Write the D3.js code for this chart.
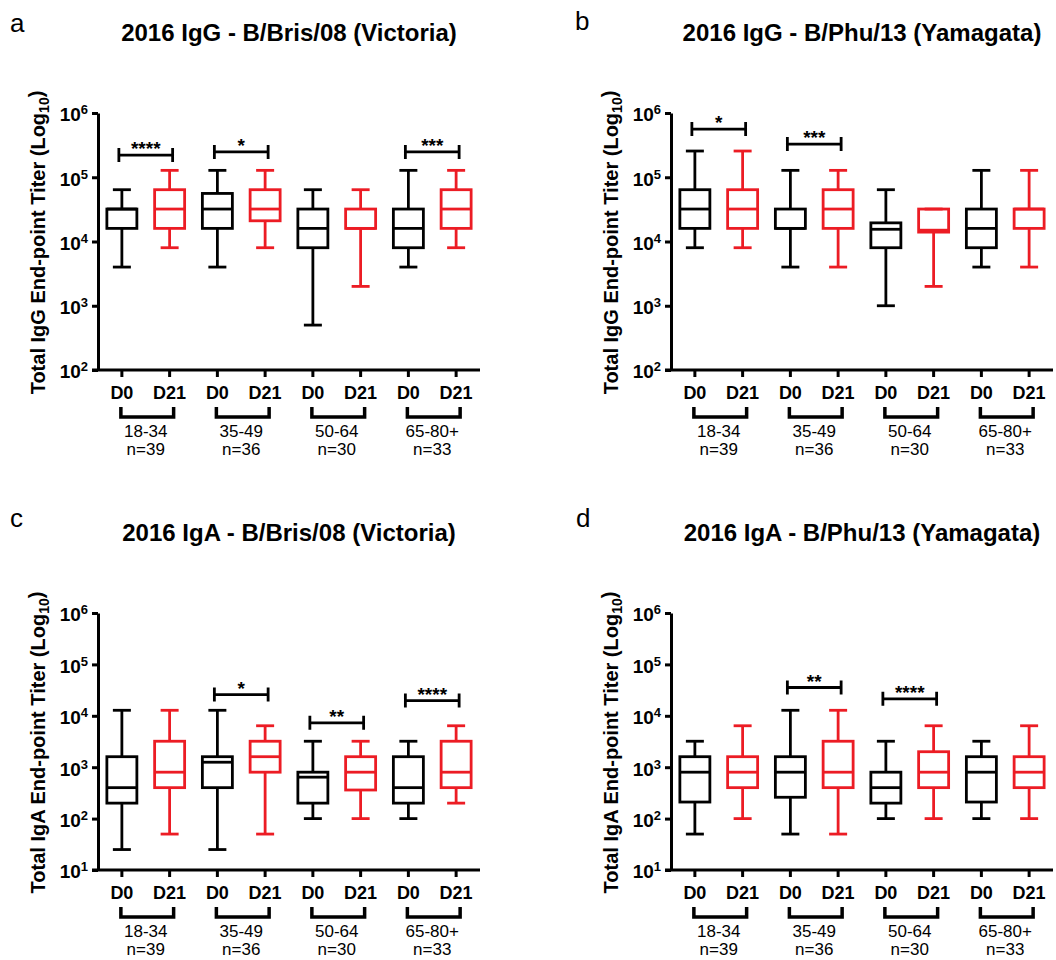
<!DOCTYPE html>
<html>
<head>
<meta charset="utf-8">
<script src="https://cdn.jsdelivr.net/npm/d3@7"></script>
<style>
  body { margin: 0; background: #fff; }
  text { font-family: "Liberation Sans", Arial, Helvetica, sans-serif; }
</style>
</head>
<body>
<svg id="chart" width="1056" height="960"></svg>
<script>
var groups = ["18-34", "35-49", "50-64", "65-80+"];
var groupN = ["n=39", "n=36", "n=30", "n=33"];
var days = ["D0", "D21"];

// each row: [min, q1, median, q3, max] for one age group
var iggVicD0 = [[4000, 16000, 32000, 32000, 64000], [4000, 16000, 32000, 56000, 128000], [500, 8000, 16000, 32000, 64000], [4000, 8000, 16000, 32000, 128000]];
var iggVicD21 = [[8000, 16000, 32000, 64000, 128000], [8000, 21000, 32000, 64000, 128000], [2000, 16000, 16000, 32000, 64000], [8000, 16000, 32000, 64000, 128000]];
var iggYamD0 = [[8000, 16000, 32000, 64000, 256000], [4000, 16000, 16000, 32000, 128000], [1000, 8000, 15500, 19500, 64000], [4000, 8000, 16000, 32000, 128000]];
var iggYamD21 = [[8000, 16000, 32000, 64000, 256000], [4000, 16000, 32000, 64000, 128000], [2000, 14000, 15000, 32000, 32000], [4000, 16000, 32000, 32000, 128000]];
var igaVicD0 = [[25, 200, 400, 1600, 12800], [25, 400, 1250, 1600, 12800], [100, 200, 640, 800, 3200], [100, 200, 400, 1600, 3200]];
var igaVicD21 = [[50, 400, 800, 3200, 12800], [50, 800, 1600, 3200, 6400], [100, 360, 800, 1600, 3200], [200, 400, 800, 3200, 6400]];
var igaYamD0 = [[50, 210, 800, 1600, 3200], [50, 260, 800, 1600, 12800], [100, 200, 400, 800, 3200], [100, 210, 800, 1600, 3200]];
var igaYamD21 = [[100, 400, 800, 1600, 6400], [50, 400, 800, 3200, 12800], [100, 400, 800, 2000, 6400], [100, 400, 800, 1600, 6400]];

// significance brackets: age group index, titer level of the bracket, stars
var sigIggVic = [[0, 221000, "****"], [1, 248000, "*"], [3, 248000, "***"]];
var sigIggYam = [[0, 562000, "*"], [1, 328000, "***"]];
var sigIgaVic = [[1, 25900, "*"], [2, 7300, "**"], [3, 19800, "****"]];
var sigIgaYam = [[1, 35500, "**"], [2, 21400, "****"]];

var panels = [
  {letter: "a", title: "2016 IgG - B/Bris/08 (Victoria)", iso: "IgG", ymin: 1e2, d0: iggVicD0, d21: iggVicD21, sig: sigIggVic, ox: 0, oy: 0, lx: 10, ly: 32},
  {letter: "b", title: "2016 IgG - B/Phu/13 (Yamagata)", iso: "IgG", ymin: 1e2, d0: iggYamD0, d21: iggYamD21, sig: sigIggYam, ox: 573, oy: 0, lx: 2, ly: 30},
  {letter: "c", title: "2016 IgA - B/Bris/08 (Victoria)", iso: "IgA", ymin: 1e1, d0: igaVicD0, d21: igaVicD21, sig: sigIgaVic, ox: 0, oy: 500, lx: 10, ly: 27},
  {letter: "d", title: "2016 IgA - B/Phu/13 (Yamagata)", iso: "IgA", ymin: 1e1, d0: igaYamD0, d21: igaYamD21, sig: sigIgaYam, ox: 573, oy: 500, lx: 3, ly: 27}
];

var red = "#ec1c24";
var plotLeft = 98, plotTop = 113, plotW = 382, plotH = 257;
var boxW = 30, capW = 18, lw = 2.8;

var svg = d3.select("#chart");

panels.forEach(function(p) {
  var g = svg.append("g").attr("transform", "translate(" + p.ox + "," + p.oy + ")");

  var x = d3.scaleBand().domain(d3.range(8)).range([plotLeft, plotLeft + plotW]);
  var y = d3.scaleLog().domain([p.ymin, 1e6]).range([plotTop + plotH, plotTop]);
  var cx = function(i) { return x(i) + x.bandwidth() / 2; };

  g.append("text").attr("x", p.lx).attr("y", p.ly)
    .style("font-size", "26px").text(p.letter);

  g.append("text").attr("x", plotLeft + plotW / 2).attr("y", 41)
    .attr("text-anchor", "middle")
    .style("font-size", "24px").style("font-weight", "bold")
    .text(p.title);

  // y axis
  var pows = d3.range(Math.round(Math.log10(p.ymin)), 7);
  var yAxis = d3.axisLeft(y)
      .tickValues(pows.map(function(k) { return Math.pow(10, k); }))
      .tickSize(6).tickSizeOuter(0).tickPadding(4)
      .tickFormat("");
  var ya = g.append("g").attr("transform", "translate(" + plotLeft + ",0)").call(yAxis);
  ya.selectAll("path, line").attr("stroke", "#000").attr("stroke-width", 3);
  ya.selectAll(".tick text").each(function(d) {
    var t = d3.select(this).attr("fill", "#000")
      .style("font-size", "19px").style("font-weight", "bold").attr("dy", "0.42em");
    t.append("tspan").text("10");
    t.append("tspan").attr("dy", "-0.55em").style("font-size", "13px")
      .text(Math.round(Math.log10(d)));
  });

  var ylab = g.append("text")
    .attr("transform", "translate(" + (plotLeft - 53) + "," + (plotTop + plotH / 2 + 1) + ") rotate(-90)")
    .attr("text-anchor", "middle")
    .style("font-size", "20px").style("font-weight", "bold");
  ylab.append("tspan").text("Total " + p.iso + " End-point Titer (Log");
  ylab.append("tspan").attr("dy", "0.3em").style("font-size", "14px").text("10");
  ylab.append("tspan").attr("dy", "-0.3em").text(")");

  // x axis
  var xAxis = d3.axisBottom(x).tickSize(7).tickSizeOuter(0)
      .tickFormat(function(i) { return days[i % 2]; });
  var xa = g.append("g").attr("transform", "translate(0," + (plotTop + plotH) + ")").call(xAxis);
  xa.selectAll("path, line").attr("stroke", "#000").attr("stroke-width", 3);
  xa.select(".domain").attr("d", "M" + (plotLeft - 6) + ",0H" + (plotLeft + plotW));
  xa.selectAll(".tick text").attr("fill", "#000").attr("y", 29).attr("dy", 0)
    .style("font-size", "18px").style("font-weight", "bold");

  // age group brackets and labels under the axis
  var base = plotTop + plotH;
  groups.forEach(function(name, gi) {
    var x0 = cx(gi * 2) - 1, x1 = cx(gi * 2 + 1) + 4;
    g.append("path")
      .attr("d", "M" + x0 + "," + (base + 37) + "V" + (base + 47) + "H" + x1 + "V" + (base + 37))
      .attr("fill", "none").attr("stroke", "#000").attr("stroke-width", 3.5);
    var mid = (cx(gi * 2) + cx(gi * 2 + 1)) / 2;
    g.append("text").attr("x", mid).attr("y", base + 67).attr("text-anchor", "middle")
      .style("font-size", "17px").text(name);
    g.append("text").attr("x", mid).attr("y", base + 85).attr("text-anchor", "middle")
      .style("font-size", "17px").text(groupN[gi]);
  });

  // boxes
  var boxes = [];
  groups.forEach(function(name, gi) {
    boxes.push({i: gi * 2, s: p.d0[gi], c: "#000"});
    boxes.push({i: gi * 2 + 1, s: p.d21[gi], c: red});
  });

  var bg = g.selectAll(".box").data(boxes).enter().append("g")
    .attr("class", "box")
    .attr("stroke", function(d) { return d.c; })
    .attr("stroke-width", lw).attr("fill", "none");

  bg.append("line")
    .attr("x1", function(d) { return cx(d.i); }).attr("x2", function(d) { return cx(d.i); })
    .attr("y1", function(d) { return y(d.s[0]); }).attr("y2", function(d) { return y(d.s[1]); });
  bg.append("line")
    .attr("x1", function(d) { return cx(d.i); }).attr("x2", function(d) { return cx(d.i); })
    .attr("y1", function(d) { return y(d.s[3]); }).attr("y2", function(d) { return y(d.s[4]); });
  [0, 4].forEach(function(k) {
    bg.append("line")
      .attr("x1", function(d) { return cx(d.i) - capW / 2; })
      .attr("x2", function(d) { return cx(d.i) + capW / 2; })
      .attr("y1", function(d) { return y(d.s[k]); })
      .attr("y2", function(d) { return y(d.s[k]); });
  });
  bg.append("rect")
    .attr("x", function(d) { return cx(d.i) - boxW / 2; })
    .attr("width", boxW)
    .attr("y", function(d) { return y(d.s[3]); })
    .attr("height", function(d) { return y(d.s[1]) - y(d.s[3]); });
  bg.append("line")
    .attr("x1", function(d) { return cx(d.i) - boxW / 2; })
    .attr("x2", function(d) { return cx(d.i) + boxW / 2; })
    .attr("y1", function(d) { return y(d.s[2]); })
    .attr("y2", function(d) { return y(d.s[2]); });

  // significance brackets
  p.sig.forEach(function(s) {
    var x0 = cx(s[0] * 2) - 3, x1 = cx(s[0] * 2 + 1) + 3, yy = y(s[1]);
    g.append("path")
      .attr("d", "M" + x0 + "," + (yy - 7) + "V" + (yy + 7) + "M" + x0 + "," + yy + "H" + x1 +
                 "M" + x1 + "," + (yy - 7) + "V" + (yy + 7))
      .attr("fill", "none").attr("stroke", "#000").attr("stroke-width", 2.8);
    g.append("text").attr("x", (x0 + x1) / 2).attr("y", yy)
      .attr("text-anchor", "middle")
      .style("font-size", "19px").style("font-weight", "bold")
      .text(s[2]);
  });
});
</script>
</body>
</html>
